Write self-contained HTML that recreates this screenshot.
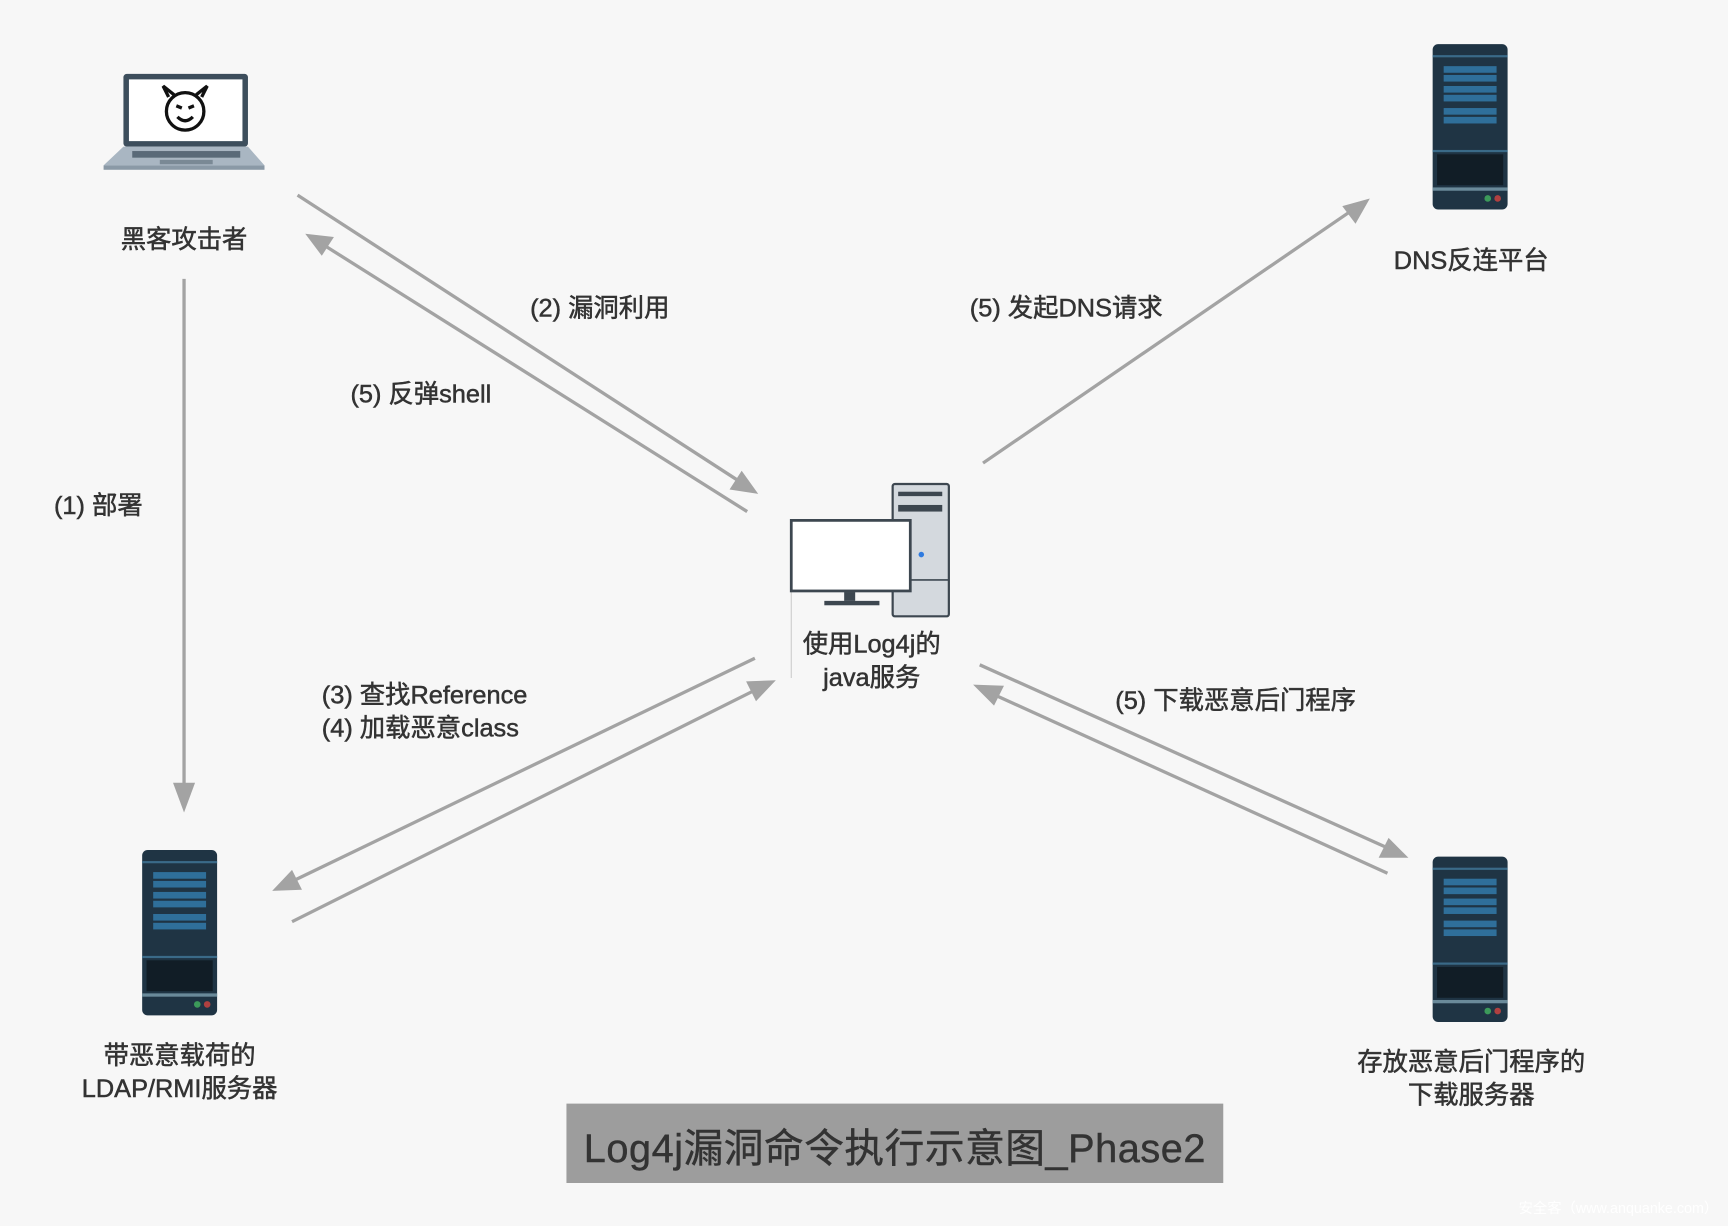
<!DOCTYPE html>
<html><head><meta charset="utf-8"><style>
html,body{margin:0;padding:0;background:#f7f7f7;}
svg{display:block}
text{font-family:"Liberation Sans","Noto Sans CJK SC",sans-serif;fill:#333;}
.lb text{stroke:#333;stroke-width:0.45px;}
</style></head><body>
<svg width="1728" height="1226" viewBox="0 0 1568 1112" preserveAspectRatio="none" xmlns="http://www.w3.org/2000/svg">
<defs>
<g id="srv">
<rect x="0" y="0" width="68" height="150" rx="5" fill="#1f3444"/>
<rect x="0" y="10" width="68" height="2" fill="#3a6a88"/>
<rect x="10" y="20" width="48" height="6" fill="#2f6f9a"/>
<rect x="10" y="28" width="48" height="6" fill="#2f6f9a"/>
<rect x="10" y="38" width="48" height="6" fill="#2f6f9a"/>
<rect x="10" y="46" width="48" height="6" fill="#2f6f9a"/>
<rect x="10" y="58" width="48" height="6" fill="#2f6f9a"/>
<rect x="10" y="66" width="48" height="6" fill="#2f6f9a"/>
<rect x="0" y="96" width="68" height="2" fill="#3a6a88"/>
<rect x="4" y="100" width="60" height="28" fill="#111d26"/>
<rect x="0" y="130" width="68" height="3" fill="#6a8a9a"/>
<circle cx="50" cy="140" r="3" fill="#3c9a5a"/>
<circle cx="59" cy="140" r="3" fill="#b04040"/>
</g>
</defs>
<rect width="1568" height="1112" fill="#f7f7f7"/>

<!-- laptop -->
<rect x="112" y="67" width="113" height="66" rx="3" fill="#3d4e5c"/>
<rect x="117" y="72" width="103" height="56" fill="#fff"/>
<path d="M112 133 L225 133 L240 150 L94 150 Z" fill="#a9b6c2"/>
<rect x="94" y="150" width="146" height="4" fill="#8a99a6"/>
<rect x="120" y="137" width="98" height="6" fill="#5a6a78"/>
<rect x="145" y="145" width="48" height="4" fill="#7a8995"/>
<circle cx="168" cy="101" r="17" fill="none" stroke="#111" stroke-width="3"/>
<path d="M153 88 L148 78 L158 86 M183 88 L188 78 L178 86" stroke="#111" stroke-width="3" fill="none"/>
<path d="M160 96 L165 98 M176 96 L171 98" stroke="#111" stroke-width="3"/>
<path d="M161 106 Q168 113 175 106" stroke="#111" stroke-width="3" fill="none"/>

<!-- servers -->
<use href="#srv" x="1300" y="40"/>
<use href="#srv" x="129" y="771"/>
<use href="#srv" x="1300" y="777"/>

<!-- desktop -->
<line x1="718" y1="483" x2="718" y2="615" stroke="#ccc" stroke-width="1"/>
<rect x="810" y="439" width="51" height="120" rx="2" fill="#d4d9de" stroke="#3d4750" stroke-width="2"/>
<rect x="815" y="446" width="40" height="4" fill="#3d4750"/>
<rect x="815" y="458" width="40" height="6" fill="#3d4750"/>
<line x1="810" y1="526" x2="861" y2="526" stroke="#3d4750" stroke-width="1.5"/>
<circle cx="836" cy="503" r="2.5" fill="#2f7be0"/>
<rect x="718" y="472" width="108" height="64" fill="#fff" stroke="#3d4750" stroke-width="2.5"/>
<rect x="766" y="537" width="10" height="8" fill="#3d4750"/>
<rect x="748" y="545" width="50" height="4" fill="#3d4750"/>

<!-- arrows -->
<g stroke="#a3a3a3" stroke-width="3" fill="none">
<line x1="167" y1="253" x2="167" y2="715"/>
<line x1="270" y1="177" x2="670" y2="436"/>
<line x1="678" y1="464" x2="295" y2="223"/>
<line x1="892" y1="420" x2="1225" y2="192"/>
<line x1="685" y1="597" x2="266" y2="799"/>
<line x1="265" y1="836" x2="685" y2="626"/>
<line x1="889" y1="603" x2="1259" y2="769"/>
<line x1="1259" y1="792" x2="902" y2="630"/>
</g>
<g fill="#a3a3a3">
<polygon points="167,737 157,710 177,710"/>
<polygon points="688,448 662,444 673,427"/>
<polygon points="277,212 303,215 292,232"/>
<polygon points="1243,180 1230,203 1218,187"/>
<polygon points="247,808 265,789 274,807"/>
<polygon points="704,617 686,636 677,618"/>
<polygon points="1278,778 1251,778 1260,760"/>
<polygon points="883,621 911,622 902,640"/>
</g>

<!-- labels -->
<g font-size="23" class="lb">
<text x="167" y="225" text-anchor="middle">黑客攻击者</text>
<text x="1335" y="244" text-anchor="middle">DNS反连平台</text>
<text x="481" y="287">(2) 漏洞利用</text>
<text x="318" y="365">(5) 反弹shell</text>
<text x="880" y="287">(5) 发起DNS请求</text>
<text x="49" y="466">(1) 部署</text>
<text x="791" y="592" text-anchor="middle">使用Log4j的</text>
<text x="791" y="622" text-anchor="middle">java服务</text>
<text x="292" y="638">(3) 查找Reference</text>
<text x="292" y="668">(4) 加载恶意class</text>
<text x="1012" y="643">(5) 下载恶意后门程序</text>
<text x="163" y="965" text-anchor="middle">带恶意载荷的</text>
<text x="163" y="995" text-anchor="middle">LDAP/RMI服务器</text>
<text x="1335" y="971" text-anchor="middle">存放恶意后门程序的</text>
<text x="1335" y="1001" text-anchor="middle">下载服务器</text>
</g>
<rect x="514" y="1001" width="596" height="72" fill="#9d9d9d"/>
<text x="812" y="1054" text-anchor="middle" font-size="36" style="fill:#333;stroke:#333;stroke-width:0.4px;letter-spacing:0.5px">Log4j漏洞命令执行示意图_Phase2</text>
<text x="1378" y="1100" font-size="13" style="fill:#fff">安全客（www.anquanke.com）</text>
</svg>
</body></html>
